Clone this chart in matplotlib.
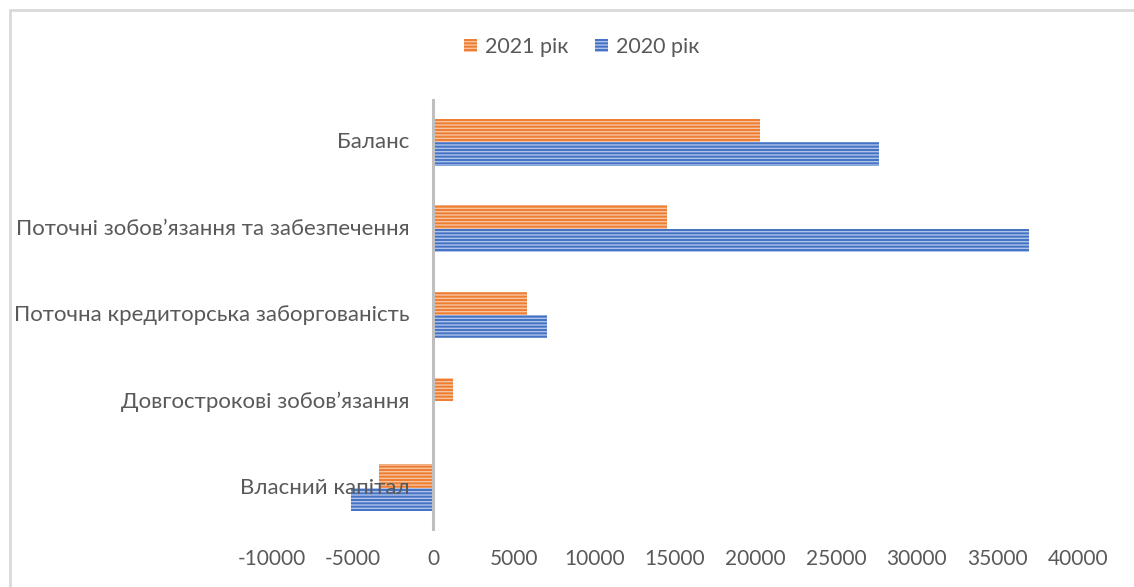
import numpy as np
import matplotlib.pyplot as plt
from matplotlib.patches import Patch, Rectangle

plt.rcParams['font.family'] = ['Lato', 'DejaVu Sans']
plt.rcParams['hatch.linewidth'] = 1.0

categories = ['Власний капітал', 'Довгострокові зобов’язання',
              'Поточна кредиторська заборгованість',
              'Поточні зобов’язання та забезпечення', 'Баланс']
y2021 = [-3370, 1230, 5800, 14490, 20270]
y2020 = [-5120, 0, 7050, 36970, 27670]
xticks = list(range(-10000, 40001, 5000))

orange, orange_l = '#ED7D31', '#F8C3A0'
blue, blue_l = '#4472C4', '#AFC2E8'
txt = '#595959'

fig = plt.figure(figsize=(11.34, 5.87), dpi=100)
ax = fig.add_axes([272 / 1134, 1 - 531 / 587, (1078 - 272) / 1134, (531 - 99) / 587])

pos = np.arange(len(categories))
h = 0.27
ax.barh(pos + h / 2, y2021, height=h, color=orange, edgecolor=orange_l,
        linewidth=0, hatch='-----')
ax.barh(pos - h / 2, y2020, height=h, color=blue, edgecolor=blue_l,
        linewidth=0, hatch='-----')

ax.axvline(0, color='#BFBFBF', lw=2.2, zorder=3)

ax.set_xlim(-10000, 40000)
ax.set_ylim(-0.5, len(categories) - 0.5)
ax.set_xticks(xticks)
ax.set_xticklabels([str(t) for t in xticks])
ax.tick_params(axis='x', length=0, pad=13, labelsize=15, labelcolor=txt)
ax.set_yticks([])
for s in ax.spines.values():
    s.set_visible(False)

for i, c in enumerate(categories):
    ax.annotate(c, xy=(0, i), xytext=(-17, 0), textcoords='offset points',
                ha='right', va='center', fontsize=16, color=txt, zorder=4)

handles = [Patch(facecolor=orange, edgecolor=orange_l, linewidth=0, hatch='-----', label='2021 рік'),
           Patch(facecolor=blue, edgecolor=blue_l, linewidth=0, hatch='-----', label='2020 рік')]
fig.legend(handles=handles, loc='center', bbox_to_anchor=(0.513, 1 - 47 / 587),
           ncol=2, frameon=False, fontsize=15.5, labelcolor=txt,
           handlelength=0.6, handleheight=0.6, handletextpad=0.4, columnspacing=1.2)

fig.patches.append(Rectangle((9.5 / 1134, -0.1), 1.2, 1.1 - 9.5 / 587, transform=fig.transFigure,
                             fill=False, edgecolor='#D9D9D9', lw=2))

fig.savefig('out.png', dpi=100)
